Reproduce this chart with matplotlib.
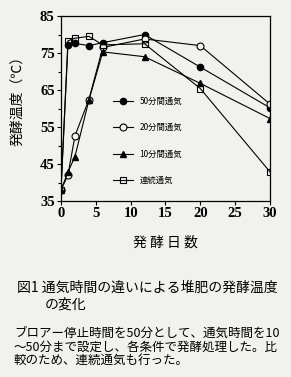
import matplotlib
matplotlib.use("Agg")
import matplotlib.pyplot as plt

plt.rcParams['font.family'] = ['Noto Sans CJK JP', 'DejaVu Sans']

# 発酵日数
days = [0, 1, 2, 4, 6, 12, 20, 30]
# 発酵温度 (℃)
temp_50 = [38, 77.2, 77.6, 77.0, 77.8, 80.0, 71.2, 60.2]
temp_20 = [38, 42.0, 52.6, 62.4, 76.5, 78.8, 77.0, 61.2]
temp_10 = [38, 42.8, 47.0, 62.2, 75.3, 74.0, 66.8, 57.3]
temp_cont = [38, 78.3, 79.0, 79.5, 77.2, 77.5, 65.4, 42.9]

labels = ["50分間通気", "20分間通気", "10分間通気", "連続通気"]

bg = "#f1f1ef"
fig = plt.figure(figsize=(2.91, 3.77), dpi=100, facecolor=bg)
ax = fig.add_axes([0.2096, 0.4668, 0.718, 0.4907], facecolor=bg)

lw = 0.8
ax.plot(days, temp_50, color="black", lw=lw, marker="o", ms=4.5,
        mfc="black", mec="black", label=labels[0])
ax.plot(days, temp_20, color="black", lw=lw, marker="o", ms=5,
        mfc=bg, mec="black", mew=0.8, label=labels[1])
ax.plot(days, temp_10, color="black", lw=lw, marker="^", ms=4.5,
        mfc="black", mec="black", label=labels[2])
ax.plot(days, temp_cont, color="black", lw=lw, marker="s", ms=5,
        mfc="none", mec="black", mew=0.8, label=labels[3])

ax.set_xlim(0, 30)
ax.set_ylim(35, 85)
ax.set_xticks(range(0, 31, 5))
ax.set_yticks(range(35, 86, 10))
ax.set_yticks(range(40, 85, 10), minor=True)

tick_font = dict(family="Liberation Serif", weight="bold", size=10.5)
ax.set_xticklabels([str(v) for v in range(0, 31, 5)], **tick_font)
ax.set_yticklabels([str(v) for v in range(35, 86, 10)], **tick_font)
ax.tick_params(axis="both", which="major", direction="out", length=3, width=0.8, pad=1.5)
ax.tick_params(axis="y", which="minor", direction="out", length=2, width=0.8)
for s in ax.spines.values():
    s.set_linewidth(0.9)

ax.set_xlabel("発 酵 日 数", fontsize=10, labelpad=11)
ax.set_ylabel("発酵温度（℃）", fontsize=10)
ax.yaxis.set_label_coords(-0.175, 0.56)

leg = ax.legend(loc="upper left", bbox_to_anchor=(0.249, 0.565), frameon=False,
                fontsize=6, handlelength=2.4, handletextpad=0.8,
                labelspacing=2.1, borderpad=0, borderaxespad=0)

fig.text(0.058, 0.236, "図1 通気時間の違いによる堆肥の発酵温度", fontsize=10,
         va="center", ha="left")
fig.text(0.155, 0.191, "の変化", fontsize=10, va="center", ha="left")
body = ["ブロアー停止時間を50分として、通気時間を10",
        "～50分まで設定し、各条件で発酵処理した。比",
        "較のため、連続通気も行った。"]
for i, line in enumerate(body):
    fig.text(0.048, 0.117 - i * 0.037, line, fontsize=9, va="center", ha="left")

fig.savefig("out.png", dpi=100, facecolor=bg)
